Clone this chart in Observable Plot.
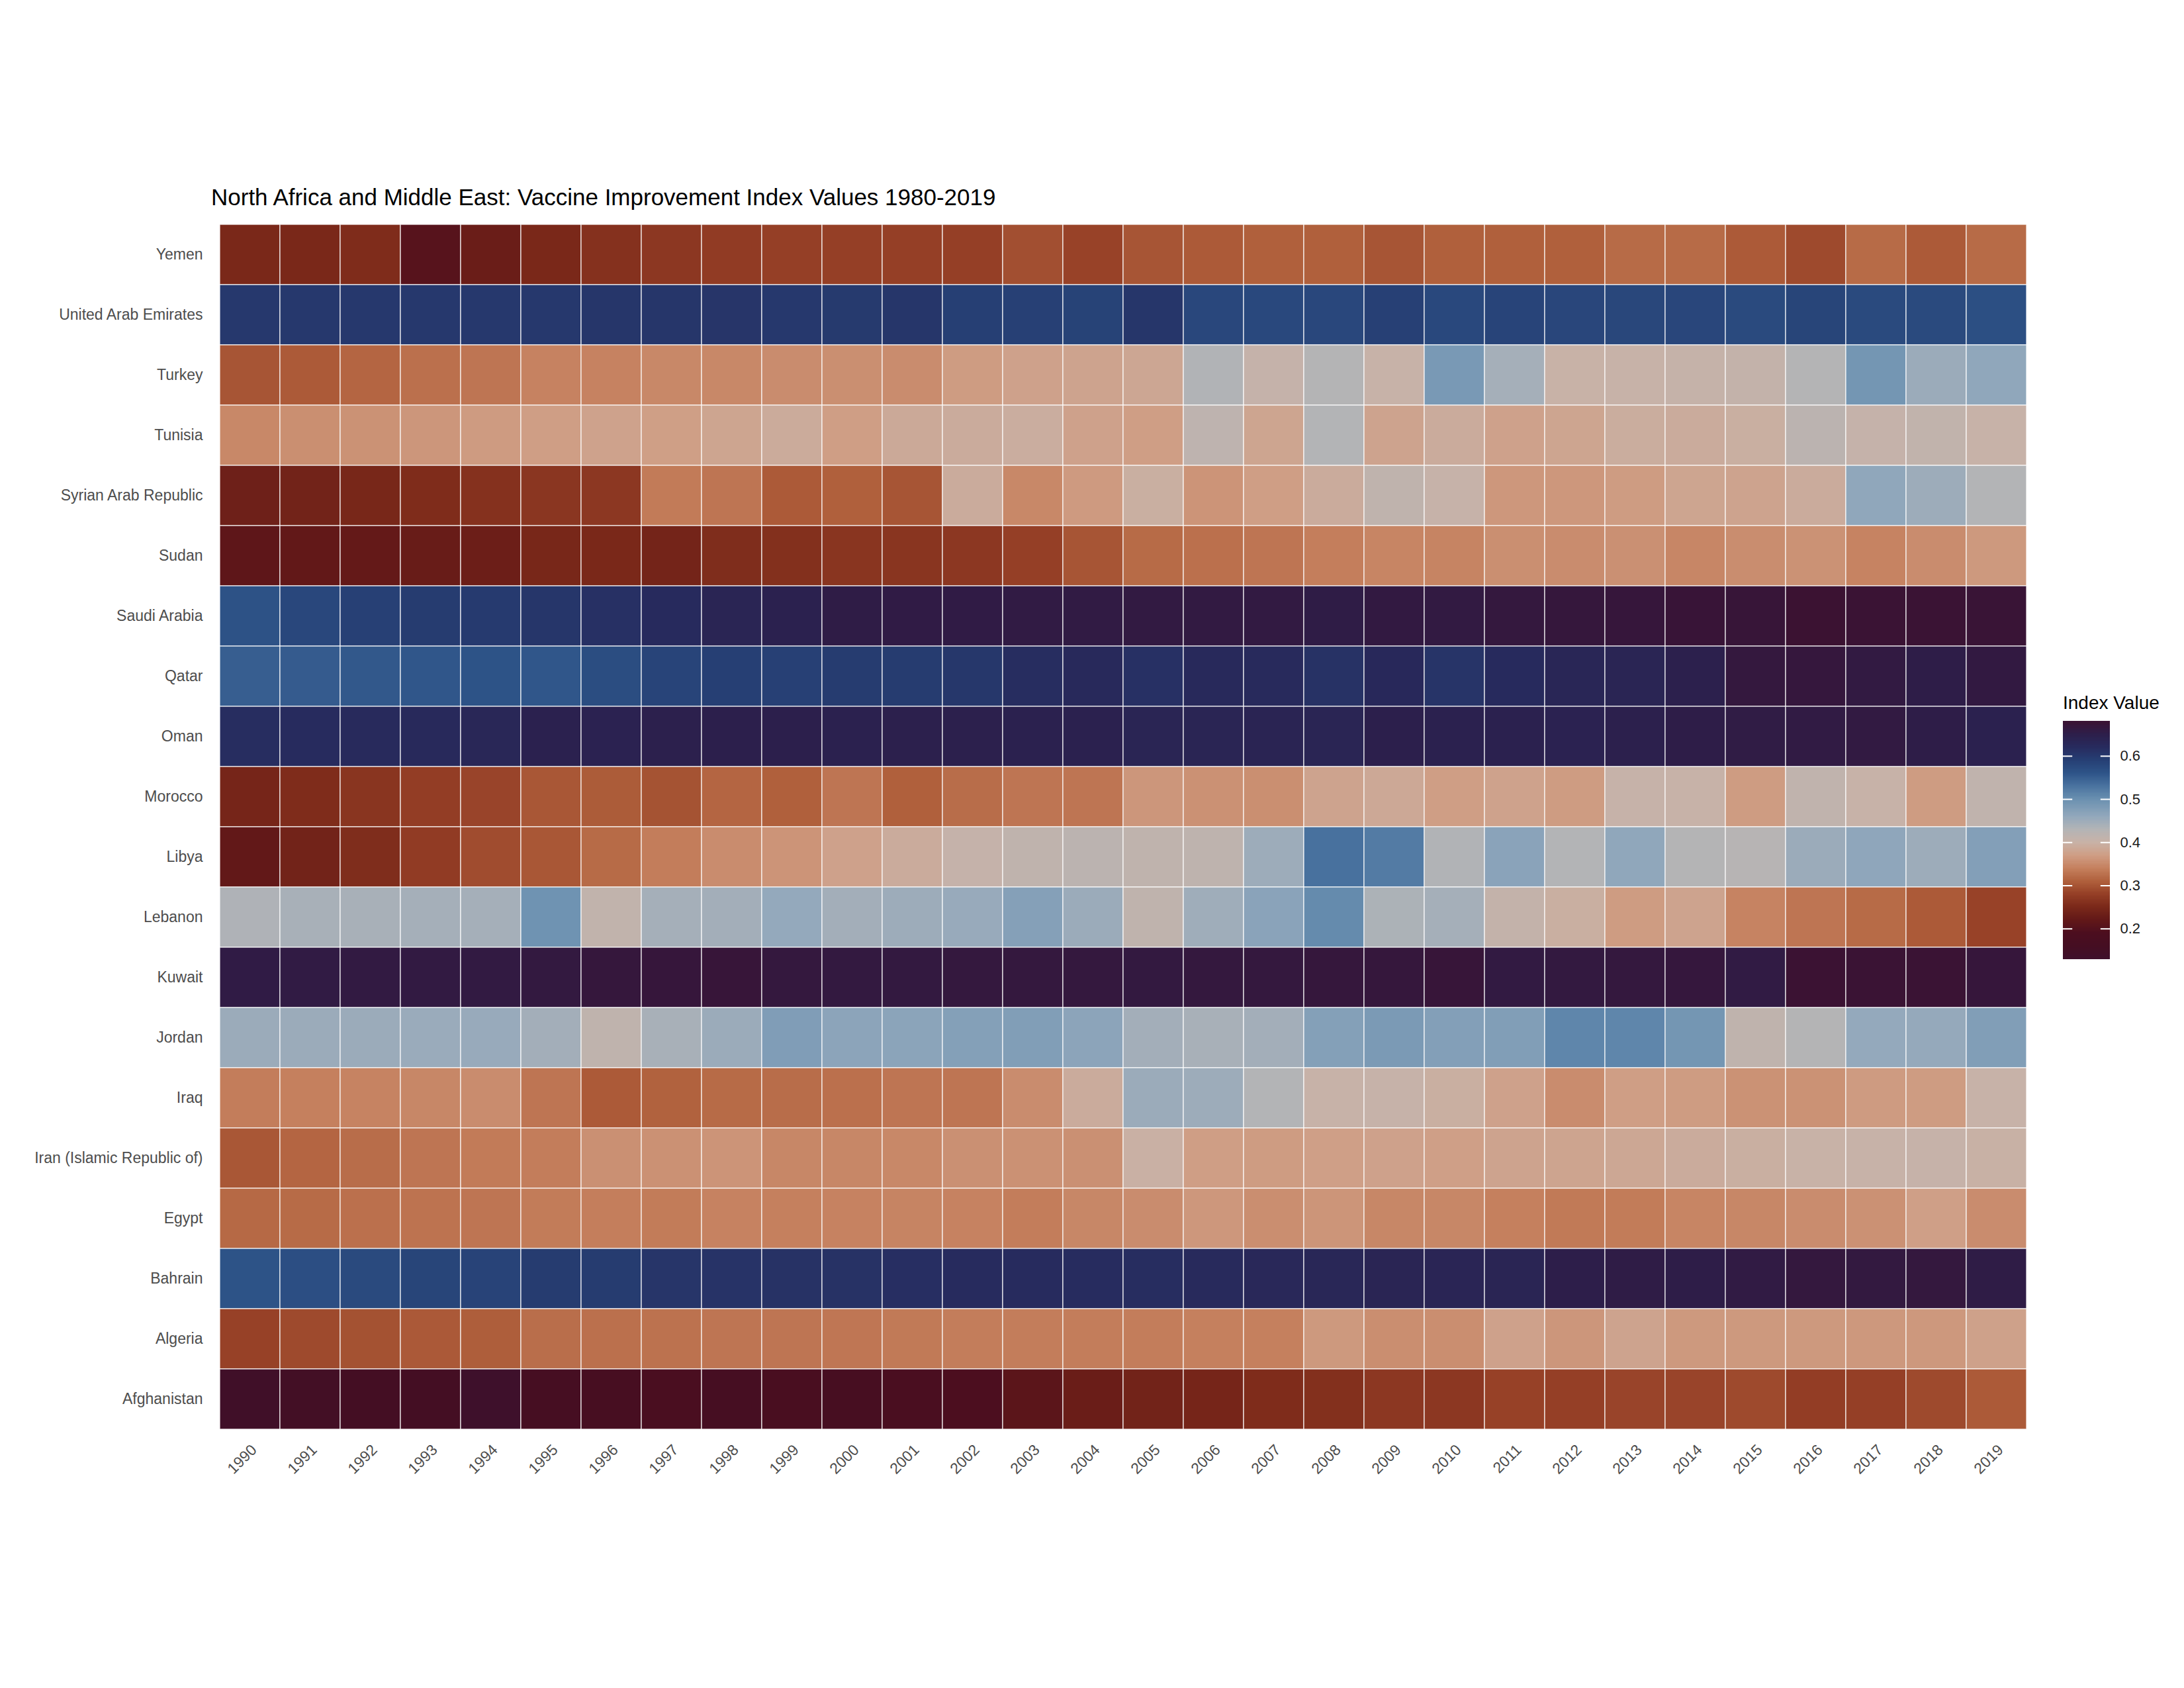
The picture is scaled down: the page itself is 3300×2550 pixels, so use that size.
<!DOCTYPE html>
<html><head><meta charset="utf-8">
<script src="https://cdn.jsdelivr.net/npm/d3@7"></script>
<script src="https://cdn.jsdelivr.net/npm/@observablehq/plot@0.6"></script>
<style>
html,body{margin:0;padding:0;background:#fff;overflow:hidden;}
#wrap{position:relative;width:3300px;height:2550px;overflow:hidden;background:#fff;font-family:"Liberation Sans",Arial,Helvetica,sans-serif;}
#chart{position:absolute;left:0;top:0;width:3300px;height:2550px;}
#chart svg,#legend svg{display:block;max-width:none;}
#title{position:absolute;left:319px;top:280px;font-size:35px;line-height:1;color:#000;white-space:nowrap;}
#legtitle{position:absolute;left:3117px;top:1048px;font-size:28px;line-height:1;color:#000;white-space:nowrap;}
#legend{position:absolute;left:3100px;top:1069px;}
</style></head>
<body>
<div id="wrap">
<div id="chart"></div>
<div id="title">North Africa and Middle East: Vaccine Improvement Index Values 1980-2019</div>
<div id="legtitle">Index Value</div>
<div id="legend"></div>
</div>
<script>
const years = [1990,1991,1992,1993,1994,1995,1996,1997,1998,1999,2000,2001,2002,2003,2004,2005,2006,2007,2008,2009,2010,2011,2012,2013,2014,2015,2016,2017,2018,2019];
// countries listed top to bottom as drawn
const countries = ["Yemen","United Arab Emirates","Turkey","Tunisia","Syrian Arab Republic","Sudan","Saudi Arabia","Qatar","Oman","Morocco","Libya","Lebanon","Kuwait","Jordan","Iraq","Iran (Islamic Republic of)","Egypt","Bahrain","Algeria","Afghanistan"];

const yemen = [0.25,0.25,0.255,0.205,0.23,0.25,0.262,0.27,0.275,0.28, 0.28,0.28,0.28,0.295,0.283,0.30,0.305,0.31,0.31,0.30, 0.31,0.31,0.31,0.32,0.32,0.305,0.29,0.32,0.305,0.32];
const uae = [0.60,0.60,0.60,0.60,0.60,0.60,0.603,0.603,0.605,0.60, 0.598,0.603,0.59,0.588,0.585,0.603,0.578,0.577,0.578,0.588, 0.577,0.583,0.58,0.579,0.58,0.575,0.582,0.575,0.575,0.567];
const turkey = [0.30,0.305,0.315,0.325,0.33,0.342,0.342,0.348,0.348,0.352, 0.355,0.352,0.368,0.375,0.378,0.382,0.432,0.405,0.428,0.402, 0.485,0.443,0.40,0.401,0.404,0.407,0.428,0.49,0.452,0.462];
const tunisia = [0.348,0.355,0.358,0.362,0.367,0.37,0.376,0.371,0.38,0.389, 0.37,0.387,0.39,0.393,0.375,0.37,0.415,0.38,0.43,0.378, 0.39,0.375,0.38,0.392,0.39,0.395,0.418,0.405,0.41,0.402];
const syria = [0.235,0.24,0.248,0.255,0.262,0.268,0.27,0.335,0.33,0.305, 0.31,0.30,0.39,0.348,0.366,0.395,0.36,0.37,0.39,0.413, 0.403,0.363,0.363,0.368,0.38,0.378,0.39,0.462,0.45,0.43];
const sudan = [0.215,0.22,0.222,0.228,0.232,0.248,0.25,0.243,0.256,0.26, 0.267,0.267,0.27,0.28,0.30,0.32,0.325,0.33,0.338,0.345, 0.344,0.355,0.352,0.356,0.346,0.353,0.358,0.343,0.352,0.365];
const saudi = [0.563,0.578,0.588,0.595,0.597,0.603,0.612,0.622,0.635,0.642, 0.655,0.657,0.657,0.658,0.658,0.66,0.66,0.66,0.655,0.662, 0.66,0.665,0.668,0.67,0.675,0.673,0.681,0.678,0.679,0.676];
const qatar = [0.55,0.553,0.556,0.558,0.562,0.558,0.57,0.583,0.59,0.588, 0.595,0.595,0.602,0.617,0.625,0.612,0.625,0.623,0.61,0.626, 0.607,0.622,0.632,0.635,0.645,0.665,0.667,0.66,0.652,0.662];
const oman = [0.617,0.62,0.623,0.625,0.63,0.642,0.64,0.645,0.647,0.647, 0.642,0.645,0.645,0.642,0.642,0.635,0.635,0.636,0.635,0.647, 0.642,0.642,0.64,0.645,0.652,0.656,0.658,0.66,0.652,0.642];
const morocco = [0.245,0.255,0.267,0.278,0.285,0.302,0.306,0.298,0.315,0.31, 0.33,0.31,0.322,0.33,0.33,0.362,0.357,0.355,0.378,0.385, 0.37,0.376,0.368,0.403,0.402,0.368,0.412,0.402,0.368,0.412];
const libya = [0.22,0.24,0.256,0.275,0.292,0.302,0.32,0.337,0.352,0.36, 0.375,0.39,0.405,0.413,0.418,0.413,0.414,0.45,0.532,0.522, 0.432,0.468,0.43,0.462,0.428,0.425,0.452,0.463,0.45,0.475];
const lebanon = [0.434,0.44,0.44,0.443,0.443,0.495,0.41,0.443,0.445,0.458, 0.445,0.45,0.455,0.473,0.452,0.413,0.448,0.468,0.505,0.436, 0.443,0.407,0.395,0.368,0.378,0.343,0.33,0.32,0.305,0.283];
const kuwait = [0.657,0.658,0.66,0.66,0.66,0.663,0.668,0.67,0.672,0.665, 0.663,0.663,0.665,0.665,0.665,0.663,0.665,0.665,0.668,0.668, 0.672,0.66,0.663,0.665,0.667,0.658,0.68,0.678,0.678,0.67];
const jordan = [0.452,0.452,0.452,0.453,0.455,0.445,0.413,0.44,0.452,0.478, 0.466,0.467,0.474,0.477,0.466,0.445,0.44,0.445,0.474,0.483, 0.475,0.477,0.51,0.51,0.49,0.413,0.428,0.458,0.457,0.477];
const iraq = [0.337,0.34,0.343,0.347,0.352,0.33,0.305,0.312,0.32,0.322, 0.325,0.33,0.33,0.352,0.39,0.452,0.45,0.43,0.402,0.403, 0.395,0.375,0.352,0.37,0.368,0.358,0.358,0.367,0.368,0.402];
const iran = [0.302,0.315,0.322,0.33,0.335,0.337,0.356,0.357,0.36,0.347, 0.347,0.348,0.356,0.357,0.356,0.397,0.37,0.368,0.372,0.375, 0.372,0.378,0.379,0.383,0.39,0.395,0.40,0.402,0.403,0.398];
const egypt = [0.318,0.32,0.325,0.328,0.33,0.336,0.338,0.336,0.342,0.34, 0.342,0.344,0.342,0.337,0.347,0.352,0.363,0.354,0.361,0.347, 0.347,0.34,0.334,0.336,0.345,0.347,0.352,0.357,0.372,0.352];
const bahrain = [0.562,0.568,0.575,0.582,0.584,0.595,0.595,0.605,0.608,0.61, 0.61,0.615,0.62,0.62,0.618,0.617,0.623,0.628,0.63,0.635, 0.633,0.635,0.65,0.655,0.652,0.658,0.665,0.663,0.665,0.655];
const algeria = [0.282,0.29,0.297,0.304,0.308,0.323,0.325,0.327,0.33,0.33, 0.331,0.334,0.337,0.337,0.337,0.337,0.34,0.34,0.365,0.354, 0.354,0.375,0.362,0.378,0.365,0.365,0.365,0.364,0.364,0.374];
const afghanistan = [0.14,0.15,0.155,0.155,0.13,0.165,0.17,0.18,0.165,0.178, 0.17,0.18,0.19,0.21,0.23,0.24,0.245,0.255,0.26,0.27, 0.27,0.282,0.28,0.285,0.285,0.29,0.278,0.28,0.29,0.305];

const series = [yemen, uae, turkey, tunisia, syria, sudan, saudi, qatar, oman, morocco, libya, lebanon, kuwait, jordan, iraq, iran, egypt, bahrain, algeria, afghanistan];

const legendTicks = [0.2, 0.3, 0.4, 0.5, 0.6];
const colorStops = [0.129, 0.16, 0.19, 0.22, 0.25, 0.28, 0.31, 0.34, 0.37, 0.40, 0.43, 0.46, 0.50, 0.53, 0.56, 0.59, 0.62, 0.65, 0.681];
const colorRange = ["#3E102B","#450E22","#4C0E1F","#621818","#7A2819","#953F26","#B0603C","#C5805E","#CF9E85","#C8B2A7","#B3B4B6","#92A8BC","#6A90B0","#4A73A0","#2E5488","#263F74","#272B5E","#2D1E4A","#3B1232"];

const font = '"Liberation Sans", Arial, Helvetica, sans-serif';
const table = countries.flatMap((c, i) => years.map((y, j) => ({country: c, year: String(y), value: series[i][j]})));
const colorOpts = {type: "linear", domain: colorStops, range: colorRange};

const chart = Plot.plot({
  width: 3300, height: 2550,
  marginLeft: 320, marginRight: 227, marginTop: 330, marginBottom: 382,
  style: {fontFamily: font, fontSize: "23px", color: "#4D4D4D", background: "white", overflow: "visible"},
  x: {type: "band", domain: years.map(String), padding: 0, label: null},
  y: {type: "band", domain: countries, padding: 0, label: null, tickSize: 0, tickPadding: 14},
  color: colorOpts,
  marks: [
    Plot.cell(table, {x: "year", y: "country", fill: "value", stroke: "white", strokeWidth: 1.3, strokeOpacity: 0.85}),
    Plot.axisX({anchor: "bottom", tickSize: 0, tickPadding: 18, tickRotate: -45, dx: 6, label: null})
  ]
});
document.getElementById("chart").appendChild(chart);

const lo = colorStops[0], hi = colorStops[colorStops.length - 1];
const n = 300;
const ramp = d3.range(n).map(i => ({y1: lo + (hi - lo) * i / n, y2: Math.min(hi, lo + (hi - lo) * (i + 1.5) / n), v: lo + (hi - lo) * (i + 0.5) / n}));
const legend = Plot.plot({
  width: 200, height: 400,
  marginTop: 20, marginBottom: 20, marginLeft: 17, marginRight: 112,
  style: {fontFamily: font, fontSize: "22px", color: "#1a1a1a", background: "transparent", overflow: "visible"},
  x: {domain: [0, 1], axis: null},
  y: {domain: [lo, hi], axis: "right", ticks: legendTicks, tickFormat: ".1f", tickSize: 0, tickPadding: 15, label: null},
  color: colorOpts,
  marks: [
    Plot.rect(ramp, {x1: 0, x2: 1, y1: "y1", y2: "y2", fill: "v", shapeRendering: "crispEdges"}),
    Plot.ruleY(legendTicks, {x1: 0, x2: 0.2, stroke: "white", strokeWidth: 2}),
    Plot.ruleY(legendTicks, {x1: 0.8, x2: 1, stroke: "white", strokeWidth: 2})
  ]
});
document.getElementById("legend").appendChild(legend);
</script>
</body></html>
